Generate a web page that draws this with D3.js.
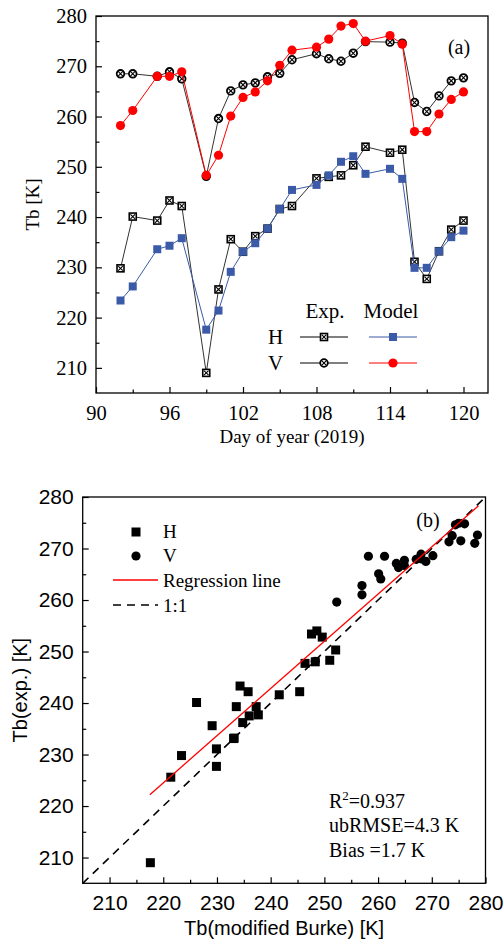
<!DOCTYPE html>
<html>
<head>
<meta charset="utf-8">
<script src="https://cdn.jsdelivr.net/npm/d3@7"></script>
<style>
  body { margin: 0; background: #fff; }
  svg { display: block; }
</style>
</head>
<body>
<div id="chart"></div>
<script>
const days = [92, 93, 95, 96, 97, 99, 100, 101, 102, 103, 104, 105, 106, 108, 109, 110, 111, 112, 114, 115, 116, 117, 118, 119, 120];
const hExp = [229.8, 240.1, 239.3, 243.3, 242.2, 209.0, 225.6, 235.6, 233.1, 236.2, 237.7, 241.6, 242.2, 247.7, 248.0, 248.3, 250.3, 254.0, 252.8, 253.4, 231.1, 227.7, 233.2, 237.5, 239.3];
const hModel = [223.4, 226.2, 233.6, 234.3, 235.8, 217.6, 221.4, 229.1, 233.1, 234.8, 237.7, 241.6, 245.4, 246.4, 248.3, 251.0, 252.1, 248.6, 249.6, 247.6, 229.9, 229.9, 233.2, 236.0, 237.3];
const vExp = [268.5, 268.5, 268.0, 268.9, 267.5, 248.1, 259.6, 265.1, 266.3, 266.7, 267.9, 268.6, 271.3, 272.5, 271.5, 271.0, 272.6, 274.9, 274.8, 274.6, 262.8, 261.0, 264.1, 267.1, 267.7];
const vModel = [258.2, 261.2, 268.0, 268.0, 268.9, 248.3, 252.3, 260.1, 263.8, 264.9, 267.1, 270.2, 273.2, 273.8, 275.4, 278.0, 278.5, 275.0, 276.1, 274.4, 257.0, 257.0, 260.5, 263.4, 264.9];

const dayTicks = [90, 96, 102, 108, 114, 120];
const tbTicks = [210, 220, 230, 240, 250, 260, 270, 280];
const scatterTicks = [210, 220, 230, 240, 250, 260, 270, 280];

// regression line end points
const regX = [217.5, 278.7];
const regY = [222.2, 278.3];
const oneToOne = [205, 280];

const stats = { r2: "0.937", ubrmse: "4.3 K", bias: "1.7 K" };

const blue = "#3b5ba8";
const red = "#ff0000";
const serif = "'Liberation Serif', 'Times New Roman', serif";
const sans = "'Liberation Sans', Arial, sans-serif";

const svg = d3.select("#chart").append("svg")
  .attr("width", 503)
  .attr("height", 945);

function tickAxis(g, axis) {
  g.call(axis);
  g.select(".domain").remove();
  g.selectAll(".tick line").attr("stroke", "#000").attr("stroke-width", 1.2);
  return g;
}

function markExpH(g, x, y) {
  const s = 3.5;
  g.append("rect").attr("x", x - s).attr("y", y - s).attr("width", 2 * s).attr("height", 2 * s)
    .attr("fill", "#fff").attr("stroke", "#000").attr("stroke-width", 1.6);
  g.append("path").attr("d", `M${x - s + 1.2},${y - s + 1.2}L${x + s - 1.2},${y + s - 1.2}M${x - s + 1.2},${y + s - 1.2}L${x + s - 1.2},${y - s + 1.2}`)
    .attr("stroke", "#000").attr("stroke-width", 1.1);
}

function markExpV(g, x, y) {
  const r = 3.8;
  g.append("circle").attr("cx", x).attr("cy", y).attr("r", r)
    .attr("fill", "#fff").attr("stroke", "#000").attr("stroke-width", 1.8);
  const d = r * 0.62;
  g.append("path").attr("d", `M${x - d},${y - d}L${x + d},${y + d}M${x - d},${y + d}L${x + d},${y - d}`)
    .attr("stroke", "#000").attr("stroke-width", 1.1);
}

// ---------- panel (a) ----------
{
  const left = 96, top = 16, right = 488, bottom = 393;
  const x = d3.scaleLinear().domain([90, 122]).range([left, right]);
  const y = d3.scaleLinear().domain([205, 280]).range([bottom, top]);
  const g = svg.append("g");

  g.append("rect").attr("x", left).attr("y", top).attr("width", right - left).attr("height", bottom - top)
    .attr("fill", "none").attr("stroke", "#000").attr("stroke-width", 1.3);

  tickAxis(g.append("g").attr("transform", `translate(0,${bottom})`),
    d3.axisBottom(x).tickValues(dayTicks).tickSize(-6).tickPadding(12).tickFormat(d3.format("d")));
  tickAxis(g.append("g").attr("transform", `translate(0,${bottom})`),
    d3.axisBottom(x).tickValues(d3.range(93, 122, 6)).tickSize(-3.5).tickFormat(""));
  tickAxis(g.append("g").attr("transform", `translate(${left},0)`),
    d3.axisLeft(y).tickValues(tbTicks).tickSize(-6).tickPadding(9).tickFormat(d3.format("d")));
  tickAxis(g.append("g").attr("transform", `translate(${left},0)`),
    d3.axisLeft(y).tickValues(d3.range(215, 280, 10)).tickSize(-3.5).tickFormat(""));

  g.selectAll(".tick text").attr("font-family", serif).attr("font-size", 20.5).attr("fill", "#000");

  g.append("text").attr("x", (left + right) / 2).attr("y", 443).attr("text-anchor", "middle")
    .attr("font-family", serif).attr("font-size", 19).text("Day of year (2019)");
  g.append("text").attr("transform", `translate(39,${(top + bottom) / 2}) rotate(-90)`).attr("text-anchor", "middle")
    .attr("font-family", serif).attr("font-size", 19).text("Tb [K]");
  g.append("text").attr("x", 459).attr("y", 54).attr("text-anchor", "middle")
    .attr("font-family", serif).attr("font-size", 20).text("(a)");

  const line = vals => d3.line().x((d, i) => x(days[i])).y(d => y(d))(vals);

  g.append("path").attr("d", line(hExp)).attr("fill", "none").attr("stroke", "#333").attr("stroke-width", 1);
  g.append("path").attr("d", line(vExp)).attr("fill", "none").attr("stroke", "#333").attr("stroke-width", 1);
  hExp.forEach((v, i) => markExpH(g, x(days[i]), y(v)));
  vExp.forEach((v, i) => markExpV(g, x(days[i]), y(v)));

  g.append("path").attr("d", line(hModel)).attr("fill", "none").attr("stroke", blue).attr("stroke-width", 1);
  g.selectAll(".hm").data(hModel).enter().append("rect")
    .attr("x", (d, i) => x(days[i]) - 4).attr("y", d => y(d) - 4)
    .attr("width", 8).attr("height", 8).attr("fill", blue);
  g.append("path").attr("d", line(vModel)).attr("fill", "none").attr("stroke", red).attr("stroke-width", 1);
  g.selectAll(".vm").data(vModel).enter().append("circle")
    .attr("cx", (d, i) => x(days[i])).attr("cy", d => y(d)).attr("r", 4.6).attr("fill", red);

  // legend
  const lg = g.append("g").attr("font-family", serif).attr("font-size", 21);
  lg.append("text").attr("x", 325).attr("y", 318).attr("text-anchor", "middle").text("Exp.");
  lg.append("text").attr("x", 391).attr("y", 318).attr("text-anchor", "middle").text("Model");
  lg.append("text").attr("x", 268).attr("y", 344).text("H");
  lg.append("text").attr("x", 268).attr("y", 370).text("V");
  [[337, markExpH, blue, "sq"], [363, markExpV, red, "ci"]].forEach(([ly, mark, col, shape]) => {
    lg.append("line").attr("x1", 300).attr("x2", 348).attr("y1", ly).attr("y2", ly).attr("stroke", "#000").attr("stroke-width", 1);
    mark(lg, 324, ly);
    lg.append("line").attr("x1", 369).attr("x2", 417).attr("y1", ly).attr("y2", ly).attr("stroke", col).attr("stroke-width", 1.2);
    if (shape === "sq") {
      lg.append("rect").attr("x", 389).attr("y", ly - 4).attr("width", 8).attr("height", 8).attr("fill", col);
    } else {
      lg.append("circle").attr("cx", 393).attr("cy", ly).attr("r", 4.6).attr("fill", col);
    }
  });
}

// ---------- panel (b) ----------
{
  const left = 82.7, top = 497, right = 485.5, bottom = 883.3;
  const x = d3.scaleLinear().domain([205, 280]).range([left, right]);
  const y = d3.scaleLinear().domain([205, 280]).range([bottom, top]);
  const g = svg.append("g");

  g.append("rect").attr("x", left).attr("y", top).attr("width", right - left).attr("height", bottom - top)
    .attr("fill", "none").attr("stroke", "#000").attr("stroke-width", 1.3);

  tickAxis(g.append("g").attr("transform", `translate(0,${bottom})`),
    d3.axisBottom(x).tickValues(scatterTicks).tickSize(-6).tickPadding(12).tickFormat(d3.format("d")));
  tickAxis(g.append("g").attr("transform", `translate(0,${bottom})`),
    d3.axisBottom(x).tickValues(d3.range(215, 280, 10)).tickSize(-3.5).tickFormat(""));
  tickAxis(g.append("g").attr("transform", `translate(${left},0)`),
    d3.axisLeft(y).tickValues(scatterTicks).tickSize(-6).tickPadding(9).tickFormat(d3.format("d")));
  tickAxis(g.append("g").attr("transform", `translate(${left},0)`),
    d3.axisLeft(y).tickValues(d3.range(215, 280, 10)).tickSize(-3.5).tickFormat(""));

  g.selectAll(".tick text").attr("font-family", sans).attr("font-size", 21).attr("fill", "#000");

  g.append("text").attr("x", (left + right) / 2).attr("y", 935).attr("text-anchor", "middle")
    .attr("font-family", sans).attr("font-size", 20).text("Tb(modified Burke) [K]");
  g.append("text").attr("transform", `translate(27,${(top + bottom) / 2}) rotate(-90)`).attr("text-anchor", "middle")
    .attr("font-family", sans).attr("font-size", 20).text("Tb(exp.) [K]");
  g.append("text").attr("x", 428).attr("y", 527).attr("text-anchor", "middle")
    .attr("font-family", serif).attr("font-size", 20).text("(b)");

  g.append("line")
    .attr("x1", x(oneToOne[0])).attr("y1", y(oneToOne[0]))
    .attr("x2", x(oneToOne[1])).attr("y2", y(oneToOne[1]))
    .attr("stroke", "#000").attr("stroke-width", 1.6).attr("stroke-dasharray", "8,6");

  g.selectAll(".hs").data(hModel).enter().append("rect")
    .attr("x", d => x(d) - 4.5).attr("y", (d, i) => y(hExp[i]) - 4.5)
    .attr("width", 9).attr("height", 9).attr("fill", "#000");
  g.selectAll(".vs").data(vModel).enter().append("circle")
    .attr("cx", d => x(d)).attr("cy", (d, i) => y(vExp[i])).attr("r", 4.6).attr("fill", "#000");

  g.append("line")
    .attr("x1", x(regX[0])).attr("y1", y(regY[0]))
    .attr("x2", x(regX[1])).attr("y2", y(regY[1]))
    .attr("stroke", red).attr("stroke-width", 1.3);

  // legend
  const lg = g.append("g").attr("font-family", serif).attr("font-size", 19);
  lg.append("rect").attr("x", 131.5).attr("y", 527.5).attr("width", 9).attr("height", 9).attr("fill", "#000");
  lg.append("text").attr("x", 163).attr("y", 538).text("H");
  lg.append("circle").attr("cx", 136).attr("cy", 556).attr("r", 4.6).attr("fill", "#000");
  lg.append("text").attr("x", 163).attr("y", 562).text("V");
  lg.append("line").attr("x1", 113).attr("x2", 158).attr("y1", 580).attr("y2", 580).attr("stroke", red).attr("stroke-width", 1.3);
  lg.append("text").attr("x", 163).attr("y", 587).text("Regression line");
  lg.append("line").attr("x1", 113).attr("x2", 158).attr("y1", 605).attr("y2", 605)
    .attr("stroke", "#000").attr("stroke-width", 1.6).attr("stroke-dasharray", "8,6");
  lg.append("text").attr("x", 163).attr("y", 612).text("1:1");

  const st = g.append("g").attr("font-family", serif).attr("font-size", 20);
  const r2 = st.append("text").attr("x", 329).attr("y", 808);
  r2.append("tspan").text("R");
  r2.append("tspan").attr("font-size", 13).attr("dy", -8).text("2");
  r2.append("tspan").attr("dy", 8).text("=" + stats.r2);
  st.append("text").attr("x", 329).attr("y", 832).text("ubRMSE=" + stats.ubrmse);
  st.append("text").attr("x", 329).attr("y", 857).text("Bias =" + stats.bias);
}
</script>
</body>
</html>
